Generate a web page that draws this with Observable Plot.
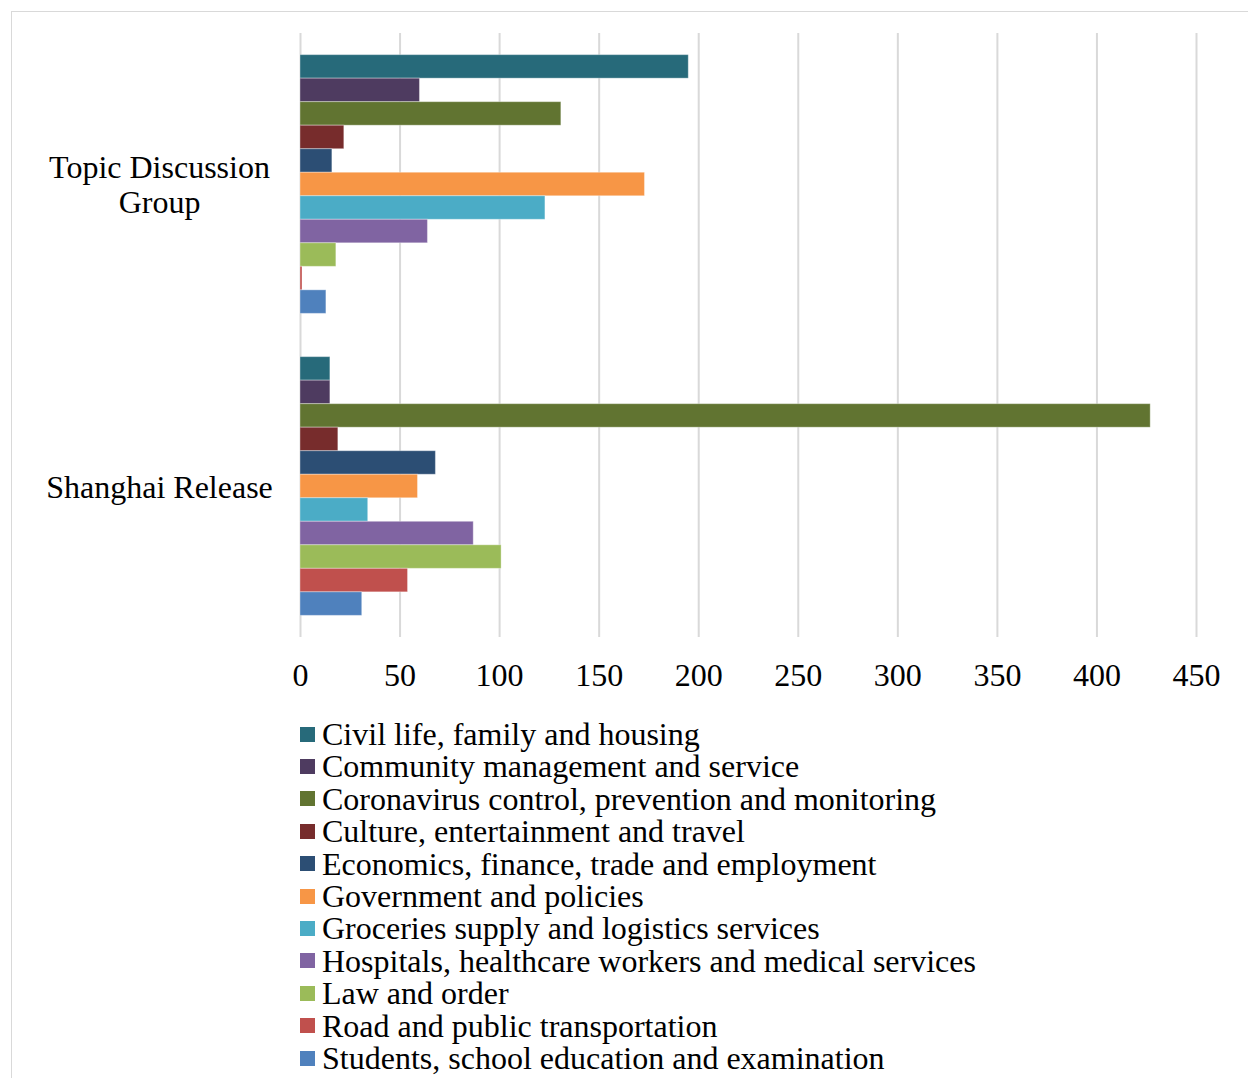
<!DOCTYPE html>
<html><head><meta charset="utf-8">
<script src="https://cdn.jsdelivr.net/npm/d3@7"></script>
<script src="https://cdn.jsdelivr.net/npm/@observablehq/plot@0.6"></script>
<style>
body{margin:0;background:#fff;font-family:"Liberation Serif","Times New Roman",serif;}
#frame{position:absolute;left:11px;top:11px;width:1300px;height:1100px;border-top:1px solid #d9d9d9;border-left:1px solid #d9d9d9;}
#chart{position:absolute;left:0;top:0;}
#legend{position:absolute;left:300px;top:718px;font-size:32px;line-height:32.4px;color:#000}
.item{display:flex;align-items:center;white-space:nowrap;height:32.4px}
.sw{width:15px;height:15px;margin-right:7px;flex:none}
.lab{display:inline-block;line-height:32.4px;height:32.4px;overflow:visible}
</style></head><body>
<div id="frame"></div><div id="chart"></div><div id="legend"></div>
<script>
const groups = ["Topic Discussion Group", "Shanghai Release"];
const categories = [
  "Civil life, family and housing",
  "Community management and service",
  "Coronavirus control, prevention and monitoring",
  "Culture, entertainment and travel",
  "Economics, finance, trade and employment",
  "Government and policies",
  "Groceries supply and logistics services",
  "Hospitals, healthcare workers and medical services",
  "Law and order",
  "Road and public transportation",
  "Students, school education and examination"
];
const topicValues = [195, 60, 131, 22, 16, 173, 123, 64, 18, 1, 13];
const shanghaiValues = [15, 15, 427, 19, 68, 59, 34, 87, 101, 54, 31];
const colors = ["#276A7A", "#4E3B60", "#617431", "#772C2C", "#2C4E74", "#F79646", "#4BACC6", "#8064A2", "#9BBB59", "#C0504D", "#4F81BD"];
const xTicks = [0, 50, 100, 150, 200, 250, 300, 350, 400, 450];

const data = [];
categories.forEach((c, i) => {
  data.push({group: groups[0], category: c, value: topicValues[i]});
  data.push({group: groups[1], category: c, value: shanghaiValues[i]});
});

const chart = Plot.plot({
  width: 1248,
  height: 700,
  marginLeft: 300,
  marginRight: 52,
  marginTop: 33,
  marginBottom: 63,
  style: {fontFamily: "'Liberation Serif', 'Times New Roman', serif", fontSize: "32px", color: "#000", background: "transparent"},
  x: {domain: [0, 450], label: null},
  y: {domain: categories, axis: null, paddingInner: 0, paddingOuter: 0.92, round: false},
  fy: {domain: groups, padding: 0, label: null, round: false},
  color: {domain: categories, range: colors},
  marks: [
    Plot.gridX(xTicks, {stroke: "#d9d9d9", strokeOpacity: 1, strokeWidth: 2}),
    Plot.barX(data, {x: "value", y: "category", fy: "group", fill: "category", stroke: "#ffffff", strokeOpacity: 0.35, strokeWidth: 1}),
    Plot.axisX(xTicks, {tickSize: 0, tickPadding: 26, fontSize: 32, label: null}),
    Plot.axisFy({
      anchor: "left", tickSize: 0, tickPadding: 0, textAnchor: "middle", dx: -141,
      lineHeight: 1.1, fontSize: 32, label: null,
      tickFormat: d => d === "Topic Discussion Group" ? "Topic Discussion\nGroup" : d
    })
  ]
});
document.getElementById("chart").appendChild(chart);

const legend = document.getElementById("legend");
categories.forEach((c, i) => {
  const item = document.createElement("div");
  item.className = "item";
  const sw = document.createElement("span");
  sw.className = "sw";
  sw.style.background = colors[i];
  const t = document.createElement("span");
  t.className = "lab";
  t.textContent = c;
  item.appendChild(sw);
  item.appendChild(t);
  legend.appendChild(item);
});
</script>
</body></html>
